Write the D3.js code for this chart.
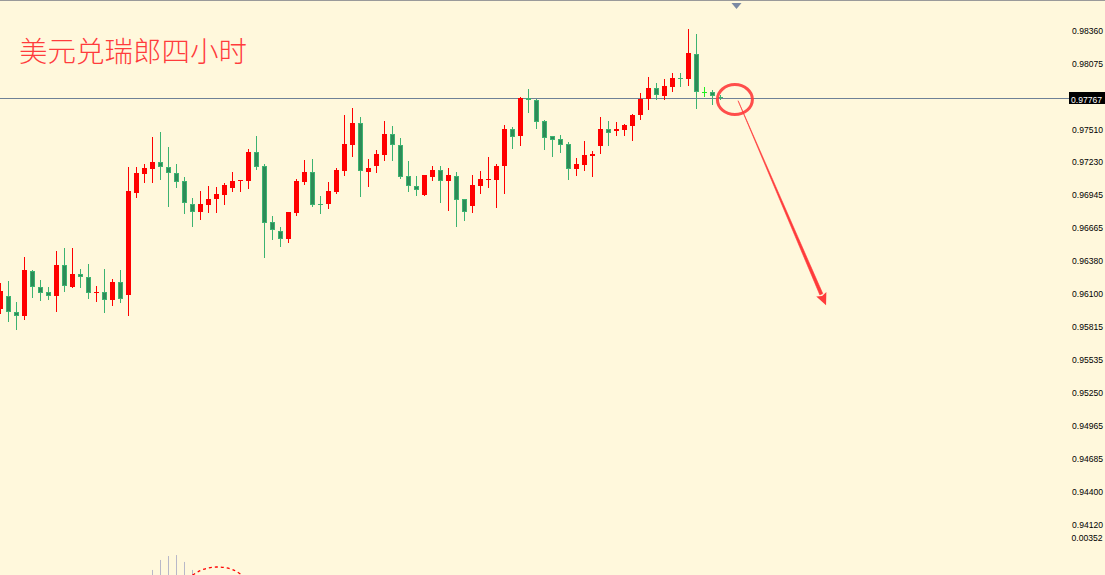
<!DOCTYPE html>
<html>
<head>
<meta charset="utf-8">
<script src="https://cdn.jsdelivr.net/npm/d3@7"></script>
<style>
  html, body { margin: 0; padding: 0; background: #fff8dc; }
  svg { display: block; }
</style>
</head>
<body>
<svg id="chart" width="1105" height="575"></svg>
<script>
// ---------- DATA ----------
const title = "美元兑瑞郎四小时";
const openP = [0.95953,0.96065,0.95928,0.95893,0.96279,0.96142,0.96099,0.96065,0.96331,0.96142,
  0.96254,0.96228,0.96091,0.96099,0.96030,0.96185,0.96073,0.96949,0.97112,0.97154,
  0.97215,0.97172,0.97120,0.97052,0.96854,0.96786,0.96846,0.96897,0.96931,0.96992,
  0.97052,0.97052,0.97300,0.97180,0.96700,0.96623,0.96554,0.96777,0.97043,0.97129,
  0.96854,0.96854,0.96957,0.97137,0.97360,0.97549,0.97129,0.97180,0.97275,0.97455,
  0.97360,0.97094,0.97009,0.96931,0.97086,0.97146,0.97052,0.97094,0.96897,0.96837,
  0.97009,0.97060,0.97060,0.97180,0.97498,0.97438,0.97764,0.97747,0.97566,0.97438,
  0.97412,0.97369,0.97154,0.97189,0.97266,0.97352,0.97498,0.97481,0.97489,0.97523,
  0.97618,0.97755,0.97850,0.97781,0.97858,0.97935,0.97927,0.98141,0.97815,0.97815,
  0.97772];
const highP = [0.96176,0.96194,0.96013,0.96399,0.96288,0.96202,0.96142,0.96451,0.96477,0.96477,
  0.96296,0.96339,0.96151,0.96296,0.96211,0.96288,0.97172,0.97172,0.97197,0.97429,
  0.97472,0.97343,0.97197,0.97086,0.96906,0.96966,0.97009,0.97000,0.97034,0.97129,
  0.97060,0.97326,0.97438,0.97197,0.96751,0.96657,0.96786,0.97069,0.97232,0.97240,
  0.96923,0.97043,0.97163,0.97618,0.97678,0.97601,0.97240,0.97317,0.97566,0.97523,
  0.97420,0.97223,0.97094,0.97103,0.97180,0.97180,0.97163,0.97129,0.96897,0.97103,
  0.97137,0.97257,0.97197,0.97532,0.97515,0.97772,0.97841,0.97755,0.97575,0.97438,
  0.97446,0.97386,0.97249,0.97395,0.97309,0.97601,0.97566,0.97558,0.97541,0.97626,
  0.97807,0.97944,0.97892,0.97927,0.97978,0.97978,0.98356,0.98313,0.97858,0.97832,
  0.97789];
const lowP = [0.95919,0.95850,0.95782,0.95868,0.96056,0.96030,0.96039,0.95936,0.96108,0.96142,
  0.96142,0.96048,0.96022,0.95928,0.95988,0.96013,0.95902,0.96914,0.97043,0.97043,
  0.97069,0.96837,0.97000,0.96777,0.96665,0.96726,0.96786,0.96786,0.96854,0.96966,
  0.96966,0.96992,0.97154,0.96399,0.96554,0.96494,0.96528,0.96760,0.97026,0.96837,
  0.96777,0.96820,0.96949,0.97103,0.97266,0.96923,0.97009,0.97129,0.97232,0.97232,
  0.97077,0.96966,0.96931,0.96931,0.97060,0.96871,0.96803,0.96665,0.96717,0.96786,
  0.96949,0.97000,0.96828,0.96949,0.97335,0.97360,0.97644,0.97506,0.97326,0.97266,
  0.97300,0.97069,0.97103,0.97146,0.97094,0.97292,0.97360,0.97446,0.97446,0.97403,
  0.97583,0.97669,0.97755,0.97755,0.97824,0.97867,0.97875,0.97678,0.97781,0.97712,
  0.97755];
const closeP = [0.96108,0.95928,0.95893,0.96288,0.96142,0.96091,0.96065,0.96331,0.96151,0.96254,
  0.96228,0.96091,0.96099,0.96030,0.96185,0.96039,0.96966,0.97120,0.97163,0.97215,
  0.97172,0.97120,0.97043,0.96863,0.96786,0.96854,0.96897,0.96940,0.97017,0.97052,
  0.97060,0.97300,0.97172,0.96691,0.96631,0.96554,0.96786,0.97052,0.97129,0.96846,
  0.96846,0.96966,0.97146,0.97369,0.97549,0.97137,0.97163,0.97283,0.97455,0.97360,
  0.97086,0.97009,0.96974,0.97103,0.97146,0.97052,0.97103,0.96888,0.96786,0.97017,
  0.97069,0.97069,0.97180,0.97498,0.97429,0.97764,0.97747,0.97558,0.97420,0.97403,
  0.97360,0.97154,0.97197,0.97275,0.97283,0.97498,0.97463,0.97498,0.97532,0.97618,
  0.97755,0.97850,0.97789,0.97867,0.97935,0.97927,0.98150,0.97815,0.97815,0.97781,
  0.97767];
const currentPrice = 0.97767;
const priceTicks = ["0.98360","0.98075","0.97510","0.97230","0.96945","0.96665","0.96380",
  "0.96100","0.95815","0.95535","0.95250","0.94965","0.94685","0.94400","0.94120"];
// indicator sub-window (only its top is visible)
const indTopLabel = "0.00352";
const indBarIdx = [19,20,21,22,23,24];
const indBarVal = [0.00107,0.00178,0.00206,0.00213,0.00164,0.00107];
const indSigIdx = [24,25,26,27,28,29,30];
const indSigVal = [0.00070,0.00103,0.00121,0.00128,0.00124,0.00110,0.00078];

// ---------- SETUP ----------
const W = 1105, H = 575;
const svg = d3.select("#chart");
svg.append("rect").attr("width", W).attr("height", H).attr("fill", "#fff8dc");

const n = openP.length;
const x = d3.scaleLinear().domain([0, 90]).range([0.5, 720.5]);
const y = d3.scaleLinear().domain([0.94120, 0.98360]).range([522.7, 28.5]);
const yi = d3.scaleLinear().domain([0, 0.00352]).range([585, 535.5]);

const candles = d3.range(n).map(i => ({i, o: openP[i], h: highP[i], l: lowP[i], c: closeP[i]}));
const colorOf = d => d.c > d.o ? "#ff0000" : (d.c < d.o ? "#3cb371" : "#22ee22");

// top border & shift marker
svg.append("line").attr("x1", 0).attr("x2", W).attr("y1", 0.5).attr("y2", 0.5)
  .attr("stroke", "#9a9a9a").attr("stroke-width", 1);
const mx = x(92);
svg.append("path").attr("d", `M${mx-5},3 L${mx+5},3 L${mx},9 Z`).attr("fill", "#7b8aa3");

// current price line
const yCur = Math.round(y(currentPrice)) + 0.5;
svg.append("line").attr("x1", 0).attr("x2", 1069).attr("y1", yCur).attr("y2", yCur)
  .attr("stroke", "#6f8196").attr("stroke-width", 1);

// indicator window (partial)
const gi = svg.append("g");
gi.selectAll("line.hist").data(indBarIdx).join("line")
  .attr("x1", (d) => x(d)).attr("x2", (d) => x(d))
  .attr("y1", (d, j) => yi(indBarVal[j])).attr("y2", H)
  .attr("stroke", "#b8b8c8").attr("stroke-width", 1);
gi.append("path")
  .datum(indSigIdx.map((d, j) => [x(d), yi(indSigVal[j])]))
  .attr("d", d3.line().curve(d3.curveMonotoneX))
  .attr("fill", "none").attr("stroke", "#ff0000").attr("stroke-width", 1.3)
  .attr("stroke-dasharray", "3,3");

// candles
const g = svg.append("g");
g.selectAll("line.wick").data(candles).join("line")
  .attr("x1", d => x(d.i)).attr("x2", d => x(d.i))
  .attr("y1", d => Math.round(y(d.h))).attr("y2", d => Math.round(y(d.l)) + 1)
  .attr("stroke", colorOf).attr("stroke-width", 1);

candles.forEach(d => {
  const top = Math.round(y(Math.max(d.o, d.c)));
  const bot = Math.round(y(Math.min(d.o, d.c)));
  const h = Math.max(1, bot - top);
  const cx = x(d.i);
  if (d.c > d.o) {
    g.append("rect").attr("x", cx - 2.5).attr("y", top).attr("width", 5).attr("height", h)
      .attr("fill", "#ff0000");
  } else if (d.c < d.o) {
    if (h >= 3) {
      g.append("rect").attr("x", cx - 2).attr("y", top + 0.5).attr("width", 4).attr("height", h - 1)
        .attr("fill", "#2e8b57").attr("stroke", "#3cb371").attr("stroke-width", 1);
    } else {
      g.append("rect").attr("x", cx - 2.5).attr("y", top).attr("width", 5).attr("height", h)
        .attr("fill", "#3cb371");
    }
  } else {
    g.append("rect").attr("x", cx - 2.5).attr("y", top).attr("width", 5).attr("height", 1)
      .attr("fill", "#22ee22");
  }
});

// right price axis labels
const ga = svg.append("g").attr("font-family", "'Liberation Sans', Arial, sans-serif")
  .attr("font-size", 9).attr("fill", "#000");
ga.selectAll("text").data(priceTicks).join("text")
  .attr("x", 1072).attr("y", d => y(+d) + 5)
  .attr("textLength", 31).attr("lengthAdjust", "spacingAndGlyphs").text(d => d);
ga.append("text").attr("x", 1071.5).attr("y", yi(0.00352) + 5)
  .attr("textLength", 31).attr("lengthAdjust", "spacingAndGlyphs").text(indTopLabel);

// current price box
svg.append("rect").attr("x", 1069).attr("y", yCur - 6.5).attr("width", 40).attr("height", 12)
  .attr("fill", "#000");
svg.append("text").attr("x", 1071).attr("y", yCur + 4)
  .attr("font-family", "'Liberation Sans', Arial, sans-serif").attr("font-size", 9)
  .attr("textLength", 31).attr("lengthAdjust", "spacingAndGlyphs")
  .attr("fill", "#fff").text(currentPrice.toFixed(5));

// title
svg.append("text").attr("x", 19).attr("y", 61.5)
  .attr("font-family", "'Noto Sans CJK SC', sans-serif").attr("font-size", 28.5)
  .attr("font-weight", 300).attr("fill", "#ff3c3c").text(title);

// annotation: circle and arrow
const ax = x(91.8), ay = y(0.97750);
svg.append("ellipse").attr("cx", ax).attr("cy", ay).attr("rx", 17.5).attr("ry", 15)
  .attr("fill", "none").attr("stroke", "#ff3b3b").attr("stroke-width", 3).attr("opacity", 0.9);
const sx = x(92.2), sy = y(0.97740);
const ex = x(102.6), ey = y(0.96080);
const ang = Math.atan2(ey - sy, ex - sx);
const px = -Math.sin(ang), py = Math.cos(ang);
svg.append("path")
  .attr("d", `M${sx},${sy} L${ex + px*1.6},${ey + py*1.6} L${ex - px*1.6},${ey - py*1.6} Z`)
  .attr("fill", "#ff3b3b").attr("stroke", "#ff3b3b").attr("stroke-width", 0.6);
const tipX = ex + Math.cos(ang) * 12, tipY = ey + Math.sin(ang) * 12;
svg.append("path")
  .attr("d", `M${tipX},${tipY} L${ex + px*5.5},${ey + py*5.5} L${ex + Math.cos(ang)*2},${ey + Math.sin(ang)*2} L${ex - px*5.5},${ey - py*5.5} Z`)
  .attr("fill", "#ff3b3b");
</script>
</body>
</html>
